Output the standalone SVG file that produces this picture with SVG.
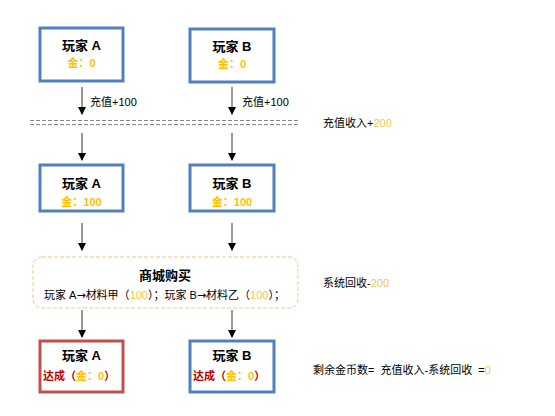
<svg xmlns="http://www.w3.org/2000/svg" width="555" height="416" viewBox="0 0 555 416">
<defs>
<marker id="ah" markerWidth="8" markerHeight="8" refX="7" refY="4" orient="auto" markerUnits="userSpaceOnUse">
<path d="M0,0 L8,4 L0,8 Z" fill="#000"/>
</marker>
<style>
.box{fill:#fff;stroke:#4F81BD;stroke-width:3}
.red{fill:#fff;stroke:#C0504D;stroke-width:3}
.t{font-family:"Liberation Sans","Noto Sans CJK SC",sans-serif;fill:#000}
.title{font-size:13px;font-weight:bold;text-anchor:middle}
.gold{font-size:11px;font-weight:bold;fill:#FFC000;text-anchor:middle}
.lab{font-size:11px}
.g{fill:#F2C744}
.rd{fill:#C00000;font-weight:bold}
.arw{font-family:"DejaVu Sans",sans-serif}
.ar{stroke:#333;stroke-width:1;fill:none;marker-end:url(#ah)}
</style>
</defs>
<rect width="555" height="416" fill="#fff"/>
<g id="connectors">
<line class="ar" x1="82" y1="87" x2="82" y2="114"/>
<line class="ar" x1="232" y1="87" x2="232" y2="114"/>
<line x1="30" y1="120.5" x2="300" y2="120.5" stroke="#888" stroke-dasharray="4,2"/>
<line x1="30" y1="124.5" x2="300" y2="124.5" stroke="#888" stroke-dasharray="4,2"/>
<line class="ar" x1="82" y1="133" x2="82" y2="160"/>
<line class="ar" x1="232" y1="133" x2="232" y2="160"/>
<line class="ar" x1="82" y1="223" x2="82" y2="250"/>
<line class="ar" x1="232" y1="223" x2="232" y2="250"/>
<line class="ar" x1="82" y1="310" x2="82" y2="337"/>
<line class="ar" x1="232" y1="310" x2="232" y2="337"/>
<text class="t lab" x="90" y="106">充值+100</text>
<text class="t lab" x="242" y="106">充值+100</text>
</g>
<g id="a1">
<rect class="box" x="40" y="28" width="83" height="53"/>
<text class="t title" x="81.5" y="50">玩家 A</text>
<text class="t gold" x="81.5" y="67">金：0</text>
</g>
<g id="b1">
<rect class="box" x="190" y="29" width="84" height="53"/>
<text class="t title" x="232" y="51">玩家 B</text>
<text class="t gold" x="232" y="68">金：0</text>
</g>
<g id="income">
<text class="t lab" x="323" y="127">充值收入+<tspan class="g">200</tspan></text>
</g>
<g id="a2">
<rect class="box" x="40" y="165" width="83" height="46"/>
<text class="t title" x="81.5" y="188">玩家 A</text>
<text class="t gold" x="81.5" y="206">金：100</text>
</g>
<g id="b2">
<rect class="box" x="190" y="165" width="84" height="46"/>
<text class="t title" x="232" y="188">玩家 B</text>
<text class="t gold" x="232" y="206">金：100</text>
</g>
<g id="shop">
<rect x="33" y="257" width="265" height="51" rx="9" fill="#fff" stroke="#F6C48C" stroke-dasharray="4,2"/>
<text class="t title" x="165" y="280">商城购买</text>
<text class="t lab" x="44" y="299">玩家 A<tspan class="arw">→</tspan>材料甲（<tspan class="g">100</tspan>）；玩家 B<tspan class="arw">→</tspan>材料乙（<tspan class="g">100</tspan>）；</text>
</g>
<g id="recycle">
<text class="t lab" x="323" y="287">系统回收-<tspan class="g">200</tspan></text>
</g>
<g id="a3">
<rect class="red" x="40" y="341" width="83" height="51"/>
<text class="t title" x="81.5" y="360">玩家 A</text>
<text class="t lab" x="43" y="380"><tspan class="rd">达成（</tspan><tspan font-weight="bold" fill="#FFC000">金：0</tspan><tspan class="rd">）</tspan></text>
</g>
<g id="b3">
<rect class="box" x="190" y="341" width="84" height="51"/>
<text class="t title" x="232" y="360">玩家 B</text>
<text class="t lab" x="193" y="380"><tspan class="rd">达成（</tspan><tspan font-weight="bold" fill="#FFC000">金：0</tspan><tspan class="rd">）</tspan></text>
</g>
<g id="remain">
<text class="t lab" x="313" y="374" xml:space="preserve">剩余金币数=  充值收入-系统回收  =<tspan class="g">0</tspan></text>
</g>
</svg>
